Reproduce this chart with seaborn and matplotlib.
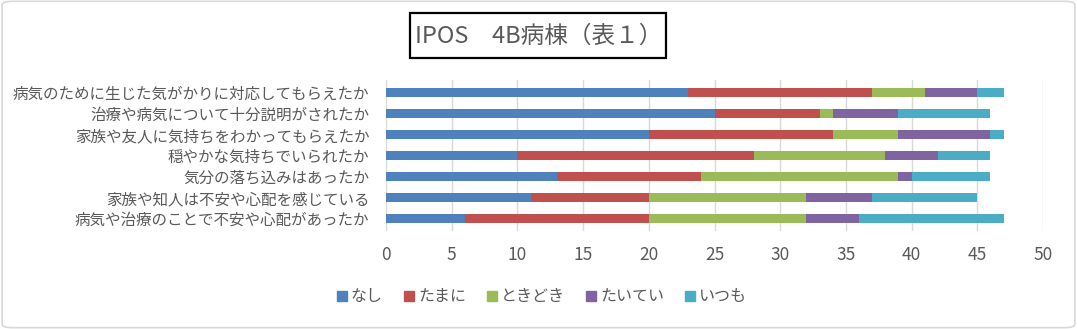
import matplotlib
matplotlib.use("Agg")
import matplotlib.pyplot as plt
import seaborn as sns
import pandas as pd
import numpy as np
from matplotlib.patches import Patch, FancyBboxPatch, Rectangle

items = [
    "病気のために生じた気がかりに対応してもらえたか",
    "治療や病気について十分説明がされたか",
    "家族や友人に気持ちをわかってもらえたか",
    "穏やかな気持ちでいられたか",
    "気分の落ち込みはあったか",
    "家族や知人は不安や心配を感じている",
    "病気や治療のことで不安や心配があったか",
]
series_names = ["なし", "たまに", "ときどき", "たいてい", "いつも"]
nashi = [23, 25, 20, 10, 13, 11, 6]
tamani = [14, 8, 14, 18, 11, 9, 14]
tokidoki = [4, 1, 5, 10, 15, 12, 12]
taitei = [4, 5, 7, 4, 1, 5, 4]
itsumo = [2, 7, 1, 4, 6, 8, 11]
colors = ["#4F81BD", "#C0504D", "#9BBB59", "#8064A2", "#4BACC6"]

sns.set_theme(style="white")
plt.rcParams["font.family"] = ["Noto Sans CJK JP", "DejaVu Sans"]

W, H = 1077, 329
df = pd.DataFrame({"item": items, "なし": nashi, "たまに": tamani,
                   "ときどき": tokidoki, "たいてい": taitei, "いつも": itsumo})
cum = df[series_names].cumsum(axis=1)
cum["item"] = items

fig = plt.figure(figsize=(W / 100, H / 100), dpi=100)
ax = fig.add_axes([386 / W, 1 - 231 / H, (1043 - 386) / W, (231 - 80) / H])

for name, col in reversed(list(zip(series_names, colors))):
    sns.barplot(data=cum, x=name, y="item", orient="h", color=col,
                width=0.41, ax=ax, saturation=1, order=items, linewidth=0)

ax.set_xlim(0, 50)
ax.set_xticks(np.arange(0, 51, 5))
ax.xaxis.grid(True, color="#D9D9D9", linewidth=1)
ax.set_axisbelow(True)
for s in ax.spines.values():
    s.set_visible(False)
ax.set_xlabel("")
ax.set_ylabel("")
ax.tick_params(axis="x", colors="#595959", labelsize=12.5, length=0, pad=11)
ax.tick_params(axis="y", colors="#595959", labelsize=11.2, length=0, pad=12)
ax.set_ylim(6.6, -0.6)

# title with box
fig.patches.append(Rectangle((410 / W, 1 - 58 / H), (666 - 410) / W, (58 - 13) / H,
                             transform=fig.transFigure, facecolor="white",
                             edgecolor="black", linewidth=1.6))
fig.text(539 / W, 1 - 36 / H, "IPOS　4B病棟（表１）", ha="center", va="center",
         fontsize=17, color="#595959")

handles = [Patch(facecolor=c, edgecolor=c) for c in colors]
fig.legend(handles, series_names, loc="center", bbox_to_anchor=(542 / W, 1 - 297 / H),
           ncol=5, frameon=False, fontsize=11.5, handlelength=0.65, handleheight=0.65,
           handletextpad=0.25, columnspacing=1.3, labelcolor="#595959")

border = FancyBboxPatch((0.002, 0.004), 0.996, 0.992, boxstyle="round,pad=0,rounding_size=0.01",
                        transform=fig.transFigure, facecolor="none", edgecolor="#D9D9D9", linewidth=1.2)
fig.patches.append(border)

fig.savefig("out.png", dpi=100)
